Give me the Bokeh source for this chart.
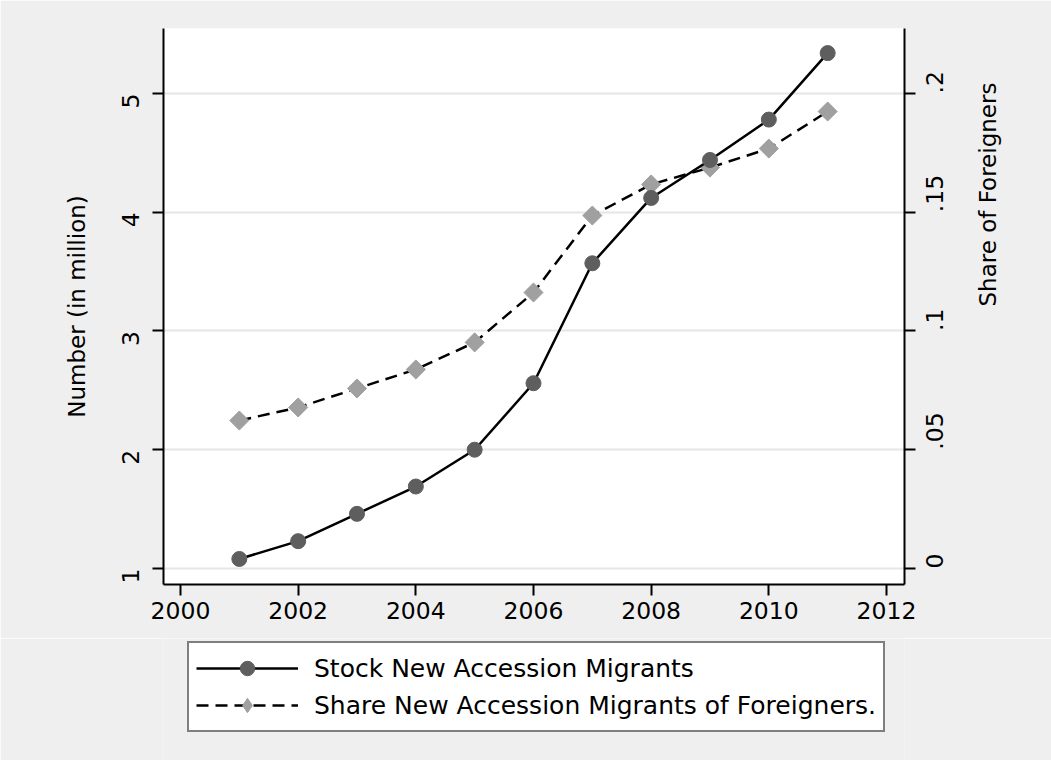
import math
from bokeh.plotting import figure
from bokeh.layouts import column
from bokeh.models import (Range1d, LinearAxis, FixedTicker, Legend, LegendItem,
                          ColumnDataSource)
from bokeh.embed import file_html
from bokeh.resources import INLINE

years = [2001, 2002, 2003, 2004, 2005, 2006, 2007, 2008, 2009, 2010, 2011]
stock_million = [1.08, 1.23, 1.46, 1.69, 2.00, 2.56, 3.57, 4.12, 4.44, 4.78, 5.34]
share_foreigners = [0.0623, 0.0678, 0.0758, 0.0838, 0.0952, 0.1162, 0.1486, 0.1617,
                    0.1688, 0.1768, 0.1924]

x_ticks = [2000, 2002, 2004, 2006, 2008, 2010, 2012]
left_ticks = [1, 2, 3, 4, 5]
right_ticks = [0, 0.05, 0.1, 0.15, 0.2]
right_tick_labels = ["0", ".05", ".1", ".15", ".2"]

label_stock = "Stock New Accession Migrants"
label_share = "Share New Accession Migrants of Foreigners."
ytitle_left = "Number (in million)"
ytitle_right = "Share of Foreigners"

FONT = "DejaVu Sans"
BG = "#efefef"
STOCK_COLOR = "#5e5e5e"
SHARE_COLOR = "#a0a0a0"

src = ColumnDataSource(dict(year=years, stock=stock_million, share=share_foreigners))

p = figure(width=1051, height=638, output_backend="svg", toolbar_location=None,
           x_range=Range1d(1999.711, 2012.306), y_range=Range1d(0.865, 5.547),
           min_border_left=163, min_border_right=147, min_border_top=28,
           min_border_bottom=54)
p.extra_y_ranges = {"share": Range1d(-0.00674, 0.22735)}
p.background_fill_color = "white"
p.border_fill_color = BG
p.outline_line_color = None

# axes
p.xaxis.ticker = FixedTicker(ticks=x_ticks)
p.yaxis.ticker = FixedTicker(ticks=left_ticks)
p.xgrid.grid_line_color = None
p.ygrid.grid_line_color = "#e6e6e6"
p.ygrid.grid_line_width = 2

right_axis = LinearAxis(y_range_name="share", ticker=FixedTicker(ticks=right_ticks),
                        major_label_overrides={t: l for t, l in zip(right_ticks, right_tick_labels)})
p.add_layout(right_axis, "right")

p.yaxis[0].axis_label = ytitle_left
right_axis.axis_label = ytitle_right

for ax in [p.xaxis[0], p.yaxis[0], right_axis]:
    ax.axis_line_color = "black"
    ax.axis_line_width = 2
    ax.major_tick_line_color = "black"
    ax.major_tick_line_width = 2
    ax.major_tick_out = 11
    ax.major_tick_in = 0
    ax.minor_tick_line_color = None
    ax.major_label_text_font = FONT
    ax.major_label_text_font_size = "23.5px"
    ax.major_label_text_color = "black"
    ax.axis_label_text_font = FONT
    ax.axis_label_text_font_size = "23px"
    ax.axis_label_text_font_style = "normal"
    ax.axis_label_text_color = "black"

p.xaxis[0].major_label_standoff = 6
p.yaxis[0].major_label_orientation = math.pi / 2
p.yaxis[0].major_label_standoff = 22
p.yaxis[0].axis_label_standoff = 21
right_axis.major_label_orientation = math.pi / 2
right_axis.major_label_standoff = 19
right_axis.axis_label_standoff = 33
right_axis.axis_label_orientation = math.pi / 2

# series
p.line("year", "share", source=src, y_range_name="share", line_color="black",
       line_width=2.5, line_dash="12 7")
p.scatter("year", "share", source=src, y_range_name="share", marker="square",
          angle=math.pi / 4, size=13.5, fill_color=SHARE_COLOR, line_color=SHARE_COLOR)
p.line("year", "stock", source=src, line_color="black", line_width=2.5)
p.scatter("year", "stock", source=src, marker="circle", size=15,
          fill_color=STOCK_COLOR, line_color=STOCK_COLOR)

# legend strip below the chart (its renderers lie outside its own view)
q = figure(width=1051, height=122, output_backend="svg", toolbar_location=None,
           x_range=Range1d(0, 1), y_range=Range1d(0, 1),
           x_axis_type=None, y_axis_type=None, min_border=0)
q.background_fill_color = BG
q.border_fill_color = BG
q.outline_line_color = None
ql1 = q.line("year", "stock", source=src, line_color="black", line_width=2.5)
qs1 = q.scatter("year", "stock", source=src, marker="circle", size=15,
                fill_color=STOCK_COLOR, line_color=STOCK_COLOR)
ql2 = q.line("year", "share", source=src, line_color="black", line_width=2.5,
             line_dash="12 7")
qs2 = q.scatter("year", "share", source=src, marker="diamond", size=22,
                fill_color=SHARE_COLOR, line_color=SHARE_COLOR)

legend = Legend(items=[LegendItem(label=label_stock, renderers=[ql1, qs1]),
                       LegendItem(label=label_share, renderers=[ql2, qs2])],
                location=(24, 28))
legend.label_text_font = FONT
legend.label_text_font_size = "25px"
legend.label_text_color = "black"
legend.glyph_width = 102
legend.glyph_height = 36
legend.label_height = 29
legend.spacing = 1
legend.padding = 7
legend.margin = 0
legend.label_standoff = 16
legend.border_line_color = "black"
legend.border_line_width = 2
legend.background_fill_color = "white"
legend.background_fill_alpha = 1
q.add_layout(legend)

layout = column(p, q, spacing=0)
open("out.html", "w").write(file_html(layout, INLINE))
